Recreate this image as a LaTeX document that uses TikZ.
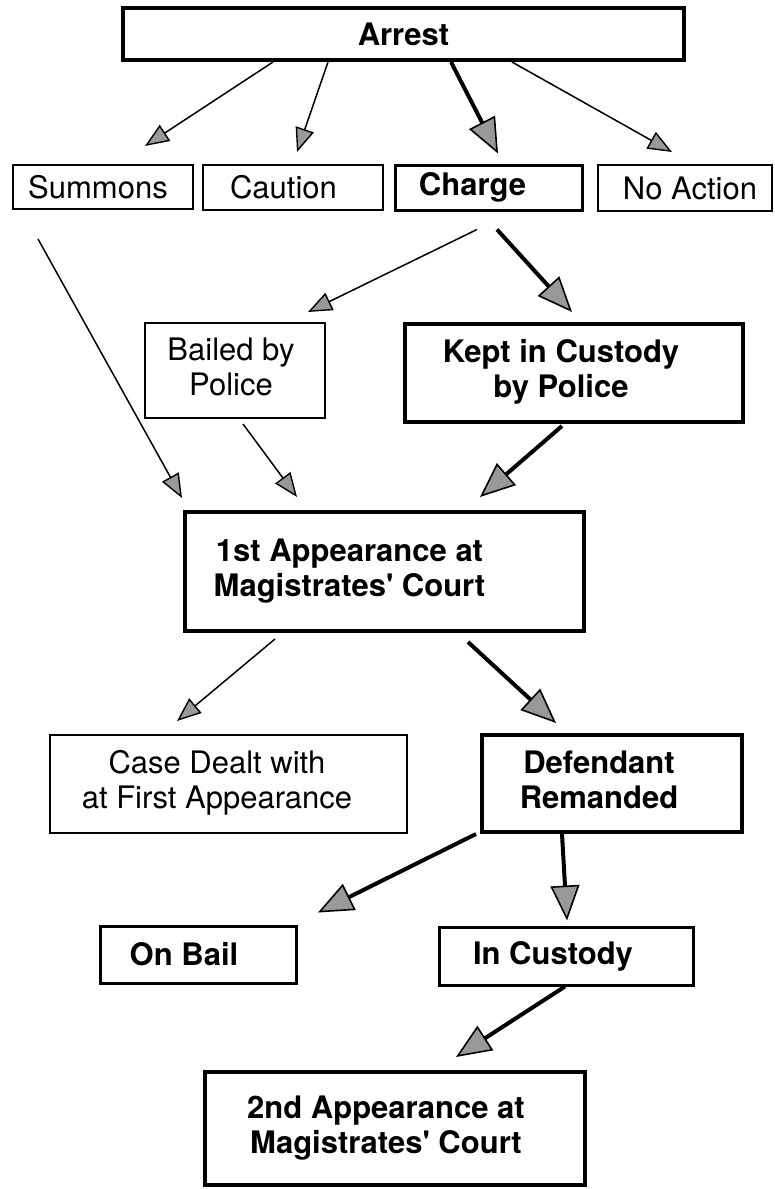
\documentclass[tikz,border=0pt]{standalone}
\usepackage{fontspec}
\setmainfont{TeX Gyre Heros}
\usetikzlibrary{arrows.meta}

\begin{document}
\begin{tikzpicture}[x=1pt, y=-1pt,
    box/.style={rectangle, draw, line width=2pt, inner sep=0pt, font=\fontsize{31}{35}\selectfont},
    heavybox/.style={box, line width=4pt, font=\fontsize{31}{35}\selectfont\bfseries},
    midbox/.style={heavybox, line width=3pt},
    flow/.style={line width=1.5pt, -{Triangle[length=24pt, width=19pt, fill=gray!80, line width=1.4pt]}},
    mainflow/.style={line width=4pt, -{Triangle[length=35pt, width=29pt, fill=gray!80, line width=1.6pt]}}]
      \useasboundingbox (0, 0) rectangle (775, 1189);

      \node (Arrest) [heavybox, minimum width=561pt, minimum height=52pt] at (403.5, 34) {Arrest};

      \node (Summons) [box, minimum width=180pt, minimum height=44pt] at (103, 187) {Summons\hspace*{10pt}};
      \node (Caution) [box, minimum width=180pt, minimum height=45pt] at (293, 187.5) {Caution\hspace*{19pt}};
      \node (Charge) [midbox, minimum width=187pt, minimum height=45pt] at (488.5, 187.5) {Charge\hspace*{32pt}};
      \node (NoAction) [box, minimum width=174pt, minimum height=46pt] at (685, 188) {\hspace*{10pt}No Action};

      \node (Bailed) [box, minimum width=180pt, minimum height=95pt] at (235, 370.5) {
        \begin{tabular}{c@{\hspace{14pt}}}
          Bailed by \\
          Police
        \end{tabular}
      };
      \node (Kept) [heavybox, minimum width=338pt, minimum height=98pt] at (574, 373) {
        \begin{tabular}{c@{\hspace{32pt}}}
          Kept in Custody \\
          by Police
        \end{tabular}
      };

      \node (First) [heavybox, minimum width=399pt, minimum height=119pt] at (384.5, 571.5) {
        \begin{tabular}{c@{\hspace{76pt}}}
          1st Appearance at \\
          Magistrates\textquotesingle{} Court
        \end{tabular}
      };

      \node (Dealt) [box, minimum width=357pt, minimum height=98pt] at (228.5, 784) {
        \begin{tabular}{c@{\hspace{29pt}}}
          Case Dealt with \\
          at First Appearance
        \end{tabular}
      };
      \node (Remanded) [heavybox, minimum width=260pt, minimum height=97pt] at (612, 783.5) {
        \begin{tabular}{c@{\hspace{32pt}}}
          Defendant \\
          Remanded
        \end{tabular}
      };

      \node (Bail) [midbox, minimum width=196pt, minimum height=57pt] at (198, 954.5) {On Bail\hspace*{28pt}};
      \node (Custody) [midbox, minimum width=254pt, minimum height=58pt] at (566, 956) {In Custody\hspace*{26pt}};

      \node (Second) [heavybox, minimum width=380pt, minimum height=113pt] at (395, 1128.5) {
        \begin{tabular}{c@{\hspace{24pt}}}
          2nd Appearance at \\
          Magistrates\textquotesingle{} Court
        \end{tabular}
      };

      % arrest outcomes
      \draw[flow] ([xshift=-130.5pt]Arrest.south) -- ([xshift=42pt, yshift=18pt]Summons.north);
      \draw[flow] ([xshift=-75.5pt]Arrest.south) -- ([xshift=4pt, yshift=12pt]Caution.north);
      \draw[mainflow] ([xshift=47.5pt]Arrest.south) -- ([xshift=9.5pt, yshift=10pt]Charge.north);
      \draw[flow] ([xshift=108.5pt]Arrest.south) -- ([xshift=-13pt, yshift=12pt]NoAction.north);

      % charge
      \draw[flow] ([xshift=-11.5pt, yshift=-18pt]Charge.south) -- ([xshift=73pt, yshift=10pt]Bailed.north);
      \draw[mainflow] ([xshift=8.5pt, yshift=-18pt]Charge.south) -- ([xshift=-2pt, yshift=10pt]Kept.north);

      % to first appearance
      \draw[flow] ([xshift=-65pt, yshift=-29pt]Summons.south) -- ([xshift=-202.5pt, yshift=12pt]First.north);
      \draw[flow] ([xshift=8pt, yshift=-5pt]Bailed.south) -- ([xshift=-87.5pt, yshift=13pt]First.north);
      \draw[mainflow] ([xshift=-12pt, yshift=-2pt]Kept.south) -- ([xshift=95.5pt, yshift=13pt]First.north);

      % first appearance outcomes
      \draw[flow] ([xshift=-109.5pt, yshift=-6pt]First.south) -- ([xshift=-51.5pt, yshift=13pt]Dealt.north);
      \draw[mainflow] ([xshift=83.5pt, yshift=-9pt]First.south) -- ([xshift=-56pt, yshift=10pt]Remanded.north);

      % remand
      \draw[mainflow] ([xshift=-4pt]Remanded.south west) -- ([xshift=120pt, yshift=12pt]Bail.north);
      \draw[mainflow] ([xshift=-50pt]Remanded.south) -- ([xshift=1pt, yshift=5pt]Custody.north);
      \draw[mainflow] ([xshift=-1pt]Custody.south) -- ([xshift=61pt, yshift=13pt]Second.north);
    \end{tikzpicture}
\end{document}
